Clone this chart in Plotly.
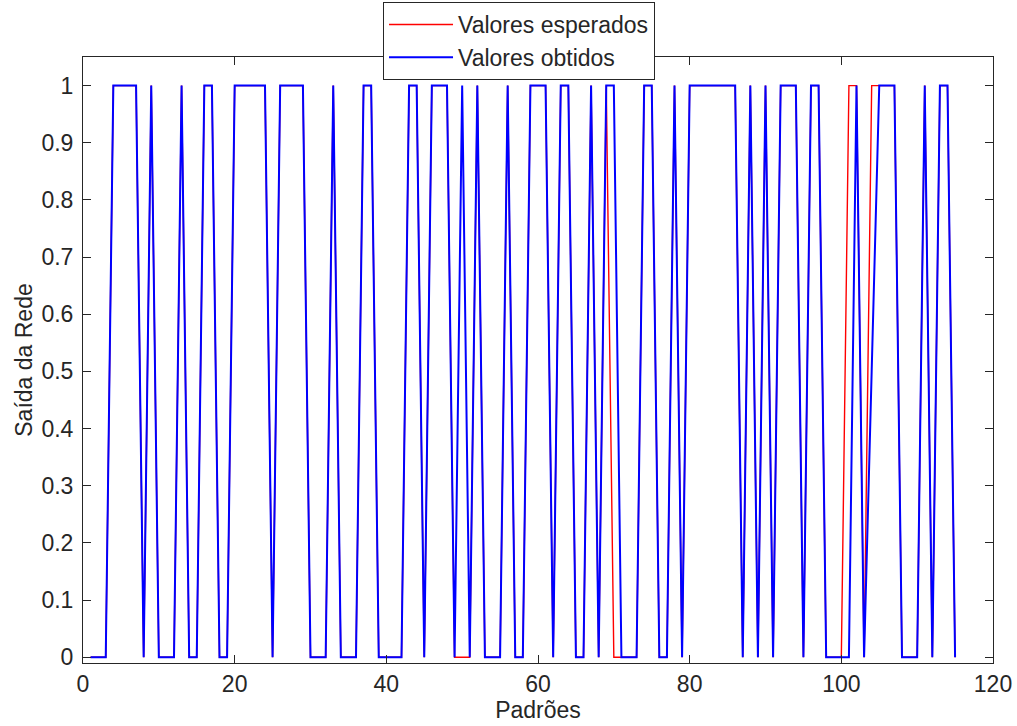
import plotly.graph_objects as go

# Padrões (pattern index)
padroes = list(range(1, 116))

# Expected values (red)
valores_esperados = [
    0, 0, 0, 1, 1, 1, 1, 0, 1, 0,      # 1-10
    0, 0, 1, 0, 0, 1, 1, 0, 0, 1,      # 11-20
    1, 1, 1, 1, 0, 1, 1, 1, 1, 0,      # 21-30
    0, 0, 1, 0, 0, 0, 1, 1, 0, 0,      # 31-40
    0, 0, 1, 1, 0, 1, 1, 1, 0, 0,      # 41-50
    0, 1, 0, 0, 0, 1, 0, 0, 1, 1,      # 51-60
    1, 0, 1, 1, 0, 0, 1, 0, 1, 0,      # 61-70
    0, 0, 0, 1, 1, 0, 0, 1, 0, 1,      # 71-80
    1, 1, 1, 1, 1, 1, 0, 1, 0, 1,      # 81-90
    0, 1, 1, 1, 0, 1, 1, 0, 0, 0,      # 91-100
    1, 1, 0, 1, 1, 1, 1, 0, 0, 0,      # 101-110
    1, 0, 1, 1, 0,                     # 111-115
]

# Obtained network outputs (blue)
valores_obtidos = [
    0, 0, 0, 1, 1, 1, 1, 0, 1, 0,      # 1-10
    0, 0, 1, 0, 0, 1, 1, 0, 0, 1,      # 11-20
    1, 1, 1, 1, 0, 1, 1, 1, 1, 0,      # 21-30
    0, 0, 1, 0, 0, 0, 1, 1, 0, 0,      # 31-40
    0, 0, 1, 1, 0, 1, 1, 1, 0, 1,      # 41-50
    0, 1, 0, 0, 0, 1, 0, 0, 1, 1,      # 51-60
    1, 0, 1, 1, 0, 0, 1, 0, 1, 1,      # 61-70
    0, 0, 0, 1, 1, 0, 0, 1, 0, 1,      # 71-80
    1, 1, 1, 1, 1, 1, 0, 1, 0, 1,      # 81-90
    0, 1, 1, 1, 0, 1, 1, 0, 0, 0,      # 91-100
    0, 1, 0, 0.5, 1, 1, 1, 0, 0, 0,    # 101-110
    1, 0, 1, 1, 0,                     # 111-115
]

x_ticks = [0, 20, 40, 60, 80, 100, 120]
y_ticks = [0, 0.1, 0.2, 0.3, 0.4, 0.5, 0.6, 0.7, 0.8, 0.9, 1]
y_tick_labels = ["0", "0.1", "0.2", "0.3", "0.4", "0.5", "0.6", "0.7", "0.8", "0.9", "1"]

FONT = "Liberation Sans, Arial, sans-serif"
TXT = "#262626"
FS = 23

fig = go.Figure()
fig.add_trace(go.Scatter(x=padroes, y=valores_esperados, mode="lines",
                         name="Valores esperados",
                         line=dict(color="#FF0000", width=1.4)))
fig.add_trace(go.Scatter(x=padroes, y=valores_obtidos, mode="lines",
                         name="Valores obtidos",
                         line=dict(color="#0000FF", width=2)))

axis_common = dict(showline=True, linecolor="#262626", linewidth=1, mirror="ticks",
                   ticks="inside", ticklen=8, tickcolor="#262626", tickwidth=1,
                   showgrid=False, zeroline=False, automargin=False,
                   tickfont=dict(family=FONT, size=FS, color=TXT))

fig.update_layout(
    width=1017, height=726,
    paper_bgcolor="white", plot_bgcolor="white",
    margin=dict(l=83, r=24, t=57, b=63, autoexpand=False),
    font=dict(family=FONT, size=FS, color=TXT),
    xaxis=dict(range=[0, 120], tickvals=x_ticks,
               title=dict(text="Padrões", font=dict(family=FONT, size=FS, color=TXT), standoff=0),
               **axis_common),
    yaxis=dict(range=[-0.01, 1.05], tickvals=y_ticks, ticktext=y_tick_labels,
               ticklabelstandoff=4,
               title=dict(text="Saída da Rede", font=dict(family=FONT, size=FS, color=TXT), standoff=2),
               **axis_common),
    legend=dict(x=0.3297, y=1.0908, xanchor="left", yanchor="top",
                bgcolor="white", bordercolor="#262626", borderwidth=1,
                font=dict(family=FONT, size=FS, color=TXT),
                itemwidth=64, tracegroupgap=0),
    showlegend=True,
)

fig.write_html("out.html")
